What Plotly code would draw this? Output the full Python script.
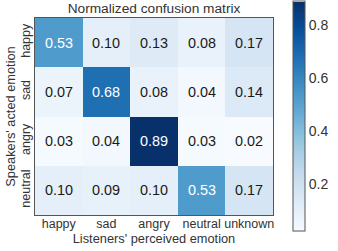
import plotly.graph_objects as go

pred_labels = ["happy", "sad", "angry", "neutral", "unknown"]
true_labels = ["happy", "sad", "angry", "neutral"]
values = [
    [0.53, 0.10, 0.13, 0.08, 0.17],
    [0.07, 0.68, 0.08, 0.04, 0.14],
    [0.03, 0.04, 0.89, 0.03, 0.02],
    [0.10, 0.09, 0.10, 0.53, 0.17],
]
cb_ticks = [0.2, 0.4, 0.6, 0.8]

blues = [
    [0.0, "#f7fbff"], [0.125, "#deebf7"], [0.25, "#c6dbef"], [0.375, "#9ecae1"],
    [0.5, "#6baed6"], [0.625, "#4292c6"], [0.75, "#2171b5"], [0.875, "#08519c"],
    [1.0, "#08306b"],
]

FONT = "Liberation Sans, Arial, sans-serif"
vmax = max(max(r) for r in values)
vmin = min(min(r) for r in values)

fig = go.Figure(go.Heatmap(
    z=values, x=pred_labels, y=true_labels,
    colorscale=blues, zmin=vmin, zmax=vmax, xgap=0, ygap=0,
    colorbar=dict(
        thickness=12, lenmode="pixels", len=230, x=1.085, xanchor="left",
        y=0.5, yanchor="middle", xpad=0, ypad=0,
        tickvals=cb_ticks, ticktext=[f"{t:.1f}" for t in cb_ticks],
        ticks="", outlinecolor="#555", outlinewidth=1,
        tickfont=dict(family=FONT, size=14, color="#333"),
    ),
))

anns = []
for i, row in enumerate(values):
    for j, v in enumerate(row):
        anns.append(dict(
            x=pred_labels[j], y=true_labels[i], text=f"{v:.2f}", showarrow=False,
            font=dict(family=FONT, size=14.4, color="white" if v > vmax / 2 else "#1a1a1a"),
        ))

fig.update_layout(
    width=338, height=251,
    margin=dict(l=35, r=56, t=17.5, b=36),
    paper_bgcolor="white", plot_bgcolor="white",
    font=dict(family=FONT, color="#333"),
    title=dict(text="Normalized confusion matrix", xref="paper", x=0.5, xanchor="center",
               y=0.966, yanchor="middle", font=dict(family=FONT, size=13.7, color="#333")),
    annotations=anns,
    xaxis=dict(title=dict(text="Listeners' perceived emotion", font=dict(size=12.8), standoff=0),
               tickfont=dict(size=12.5), showgrid=False, ticks="", showline=True,
               ticklabelstandoff=-3,
               linecolor="#555", linewidth=1, mirror=True, automargin=False),
    yaxis=dict(title=dict(text="Speakers' acted emotion", font=dict(size=12.8), standoff=0),
               tickfont=dict(size=12.5), tickangle=-90, autorange="reversed",
               ticklabelstandoff=-1,
               showgrid=False, ticks="", showline=True, linecolor="#555", linewidth=1,
               mirror=True, automargin=False),
)

fig.write_html("out.html", config={"displayModeBar": False},
               post_script="document.body.style.margin='0';")
